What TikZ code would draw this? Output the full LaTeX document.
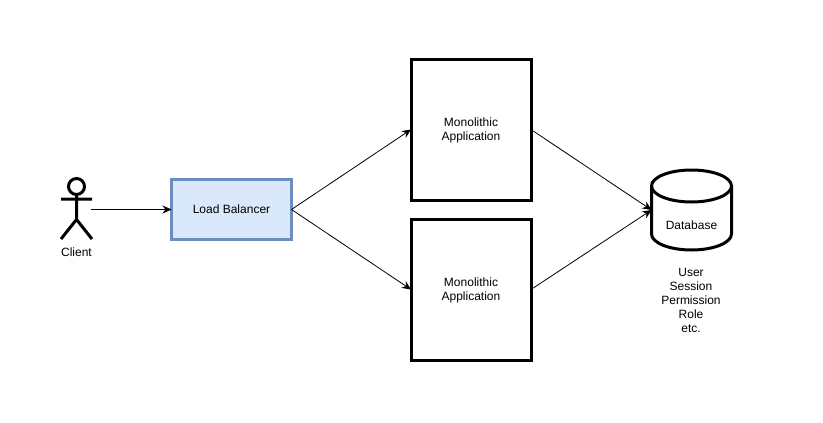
\documentclass[tikz,border=0pt]{standalone}
\usepackage{fontspec}
\setmainfont{Liberation Sans}
\usetikzlibrary{arrows.meta}
\definecolor{lbblue}{HTML}{6C8EBF}
\definecolor{lbfill}{HTML}{DAE8FC}
\tikzset{
  box/.style={draw=black,line width=3pt,fill=white,minimum width=120pt,minimum height=141pt,inner sep=0pt,outer sep=0pt,align=center},
  lbbox/.style={draw=lbblue,fill=lbfill,line width=3pt,minimum width=120pt,minimum height=60pt,inner sep=0pt,outer sep=0pt,align=center},
  txt/.style={inner sep=0pt,outer sep=0pt,align=center},
  flow/.style={draw=black,line width=.8pt,-{Stealth[length=9pt,width=8pt]}},
  thick3/.style={draw=black,line width=3pt},
}
\begin{document}
\begin{tikzpicture}[x=1pt,y=-1pt,every node/.append style={font=\fontsize{12}{14}\selectfont}]
\useasboundingbox[fill=white] (0,0) rectangle (823,423);
% actor
\draw[thick3] (76.5,186.5) circle (8);
\draw[thick3] (76.5,194.5) -- (76.5,219.5) (61,199) -- (92,199) (61,239) -- (76.5,219.5) -- (92,239);
\coordinate (actor) at (91,209.5);
\node[txt] (client) at (76.5,252.5) {Client};
% boxes
\node[lbbox] (lb) at (231.5,209.5) {Load Balancer};
\node[box] (app1) at (471,129.5) {\rule{0pt}{4pt}\\[-7pt]Monolithic\\Application};
\node[box] (app2) at (471,289.5) {\rule{0pt}{4pt}\\[-7pt]Monolithic\\Application};
% database
\draw[thick3,fill=white] (651.5,186) -- (651.5,234) .. controls (651.5,242.8) and (669.4,250) .. (691.5,250) .. controls (713.6,250) and (731.5,242.8) .. (731.5,234) -- (731.5,186);
\draw[thick3] (691.5,186) ellipse[x radius=40,y radius=16];
\node[txt,minimum width=80pt,minimum height=80pt] (db) at (691.5,210) {};
\node[txt] (dblabel) at (691.5,225) {Database};
\node[txt] (data) at (691,300) {User\\Session\\Permission\\Role\\etc.};
% connectors
\draw[flow] (actor) -- (lb.west);
\draw[flow] (lb.east) -- (app1.west);
\draw[flow] (lb.east) -- (app2.west);
\draw[flow] (app1.east) -- (db.west);
\draw[flow] (app2.east) -- (db.west);
\end{tikzpicture}
\end{document}
